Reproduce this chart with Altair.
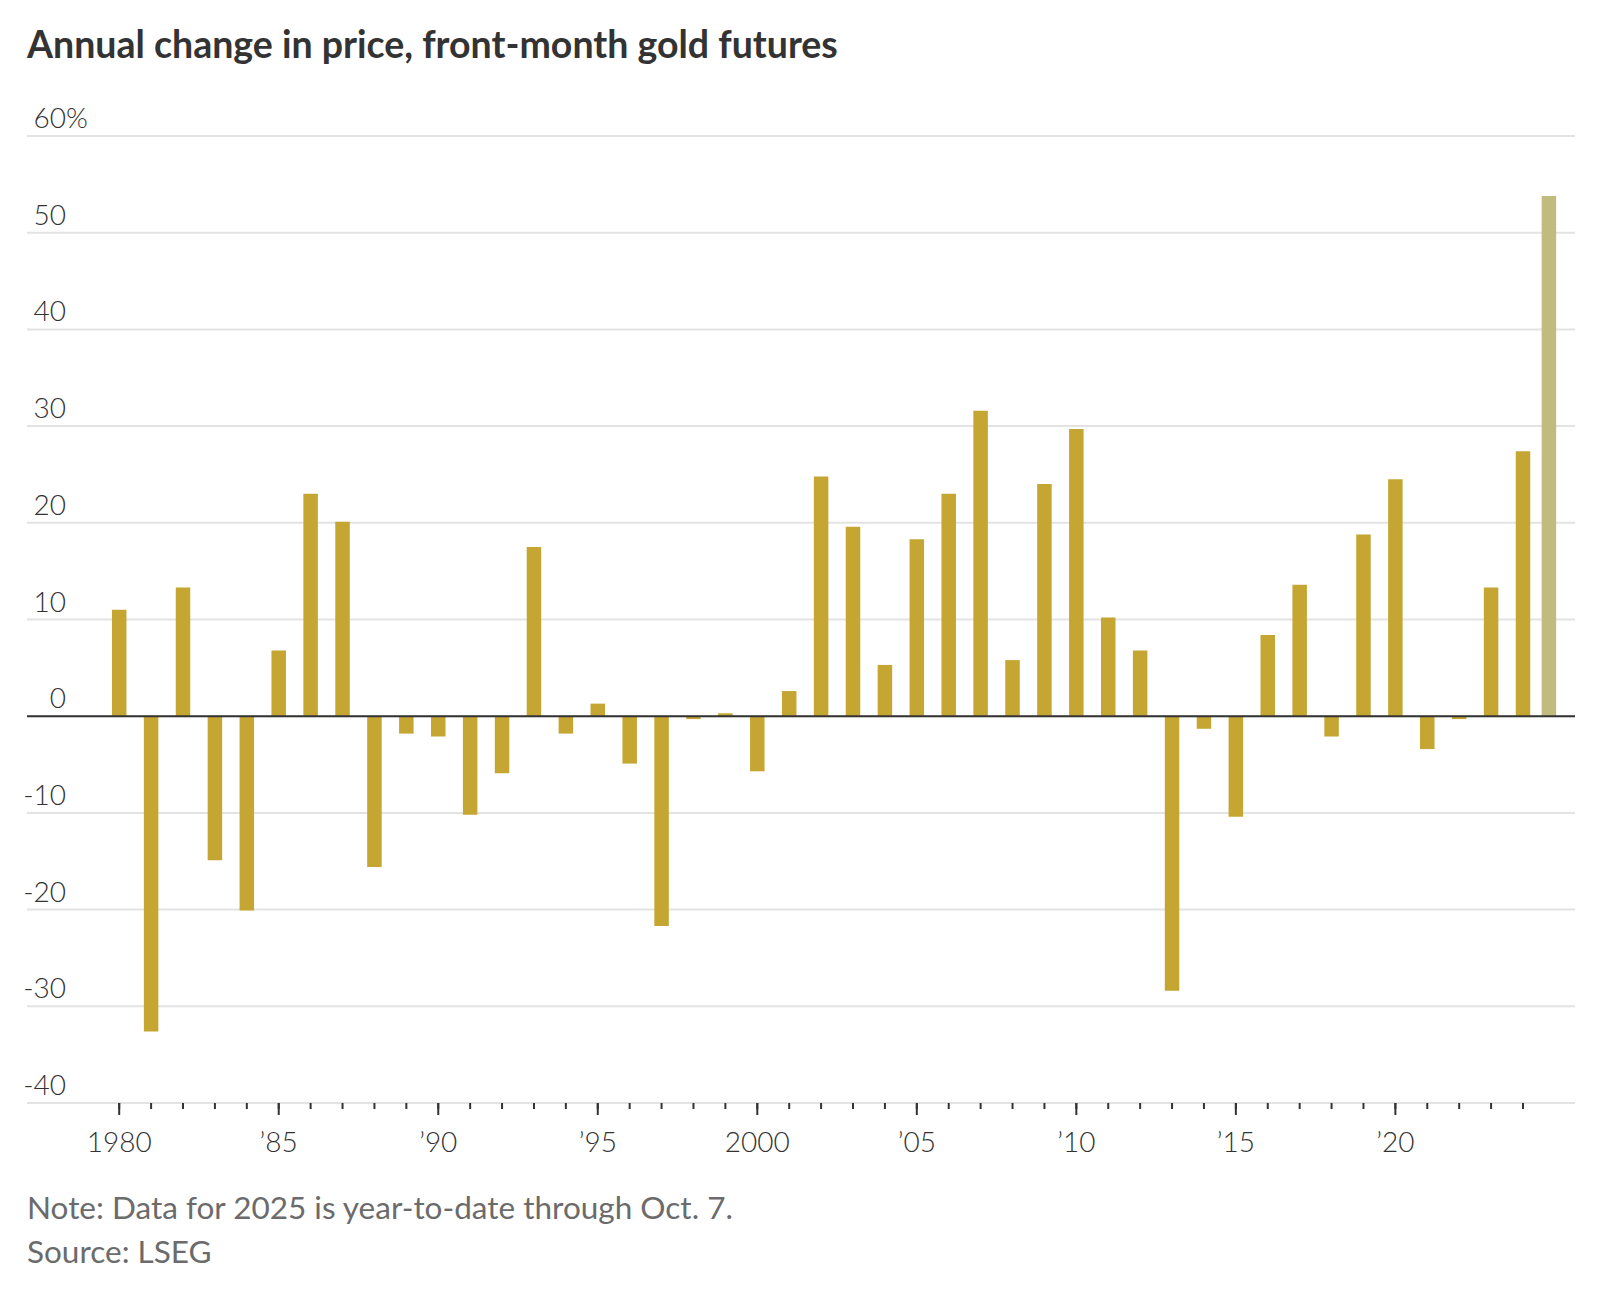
import altair as alt
import pandas as pd

title_text = "Annual change in price, front-month gold futures"
note_text = "Note: Data for 2025 is year-to-date through Oct. 7."
source_text = "Source: LSEG"

years = list(range(1980, 2026))
changes = [11.0, -32.6, 13.3, -14.9, -20.1, 6.8, 23.0, 20.1, -15.6, -1.8,
           -2.1, -10.2, -5.9, 17.5, -1.8, 1.3, -4.9, -21.7, -0.3, 0.3,
           -5.7, 2.6, 24.8, 19.6, 5.3, 18.3, 23.0, 31.6, 5.8, 24.0,
           29.7, 10.2, 6.8, -28.4, -1.3, -10.4, 8.4, 13.6, -2.1, 18.8,
           24.5, -3.4, -0.3, 13.3, 27.4, 53.8]

y_ticks = [60, 50, 40, 30, 20, 10, 0, -10, -20, -30, -40]
y_labels = ["60", "50", "40", "30", "20", "10", "0", "-10", "-20", "-30", "-40"]
x_label_years = [1980, 1985, 1990, 1995, 2000, 2005, 2010, 2015, 2020]
x_labels = ["1980", "’85", "’90", "’95", "2000", "’05", "’10", "’15", "’20"]
tick_years = years[:-1]

W, H = 1548, 967
AXIS_FONT = "Lato"
TEXT_FONT = "Lato"
BAR = "#c5a632"
BAR_YTD = "#c1bb7e"
INK = "#333333"

df = pd.DataFrame({"year": years, "change": changes})
xs = alt.Scale(domain=[1977.11, 2025.63], nice=False, zero=False, padding=0)
ys = alt.Scale(domain=[-40, 60], nice=False, zero=False, padding=0)

grid = alt.Chart(pd.DataFrame({"v": y_ticks})).mark_rule(color="#e3e3e3", strokeWidth=2).encode(
    y=alt.Y("v:Q", scale=ys, axis=None)
)

bars = alt.Chart(df).transform_filter("datum.year < 2025").mark_bar(size=14.5, color=BAR).encode(
    x=alt.X("year:Q", scale=xs, axis=None),
    y=alt.Y("change:Q", scale=ys, axis=None),
)

bar_ytd = alt.Chart(df).transform_filter("datum.year == 2025").mark_bar(
    size=14.5, color=BAR_YTD, xOffset=-6).encode(
    x=alt.X("year:Q", scale=xs, axis=None),
    y=alt.Y("change:Q", scale=ys, axis=None),
)

zero_line = alt.Chart(pd.DataFrame({"v": [0]})).mark_rule(color=INK, strokeWidth=2).encode(
    y=alt.Y("v:Q", scale=ys, axis=None)
)

minor_ticks = alt.Chart(pd.DataFrame({"year": tick_years})).mark_rule(
    color=INK, strokeWidth=2).encode(
    x=alt.X("year:Q", scale=xs, axis=None),
    y=alt.value(H), y2=alt.value(H + 6),
)

major_ticks = alt.Chart(pd.DataFrame({"year": x_label_years})).mark_rule(
    color=INK, strokeWidth=2).encode(
    x=alt.X("year:Q", scale=xs, axis=None),
    y=alt.value(H), y2=alt.value(H + 12),
)

xlab = alt.Chart(pd.DataFrame({"year": x_label_years, "t": x_labels})).mark_text(
    align="center", baseline="alphabetic", font=AXIS_FONT, fontSize=28, fontWeight=300,
    color=INK).encode(
    x=alt.X("year:Q", scale=xs, axis=None), y=alt.value(H + 49), text="t:N"
)

ylab = alt.Chart(pd.DataFrame({"v": y_ticks, "t": y_labels})).mark_text(
    align="right", baseline="alphabetic", dy=-8, font=AXIS_FONT, fontSize=28, fontWeight=300,
    color=INK).encode(
    x=alt.value(39), y=alt.Y("v:Q", scale=ys, axis=None), text="t:N"
)

pct = alt.Chart(pd.DataFrame({"v": [y_ticks[0]], "t": ["%"]})).mark_text(
    align="left", baseline="alphabetic", dy=-8, font=AXIS_FONT, fontSize=28, fontWeight=300,
    color=INK).encode(
    x=alt.value(39), y=alt.Y("v:Q", scale=ys, axis=None), text="t:N"
)

title = alt.Chart(pd.DataFrame({"t": [title_text]})).mark_text(
    align="left", baseline="alphabetic", font=TEXT_FONT, fontSize=37.5, fontWeight="bold",
    color=INK).encode(x=alt.value(0), y=alt.value(-78), text="t:N")

note = alt.Chart(pd.DataFrame({"t": [note_text]})).mark_text(
    align="left", baseline="alphabetic", font=TEXT_FONT, fontSize=31.5,
    color="#6b6b6b").encode(x=alt.value(0), y=alt.value(1083), text="t:N")

source = alt.Chart(pd.DataFrame({"t": [source_text]})).mark_text(
    align="left", baseline="alphabetic", font=TEXT_FONT, fontSize=31.5,
    color="#6b6b6b").encode(x=alt.value(0), y=alt.value(1127), text="t:N")

chart = alt.layer(grid, bars, bar_ytd, zero_line, minor_ticks, major_ticks, xlab, ylab, pct,
                  title, note, source).properties(
    width=W, height=H,
    autosize=alt.AutoSizeParams(type="none"),
    padding={"left": 19, "top": 128, "right": 9, "bottom": 174},
    background="white",
).configure_view(stroke=None)

chart.save("out.html", embed_options={"renderer": "svg", "actions": False})
